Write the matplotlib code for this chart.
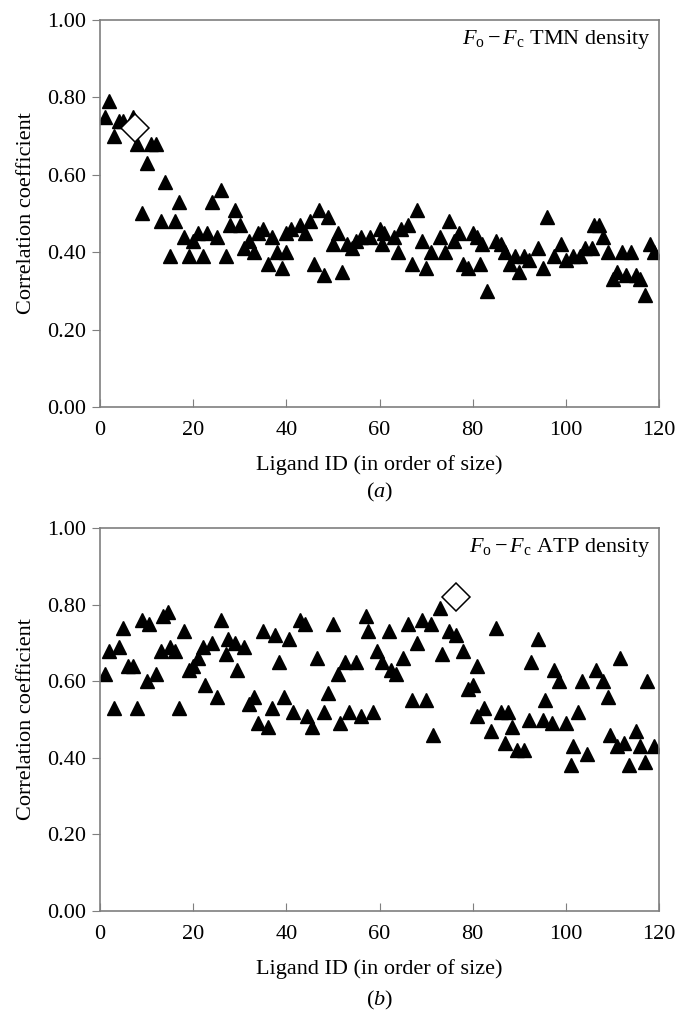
import matplotlib
matplotlib.use('Agg')
import matplotlib.pyplot as plt
from matplotlib.ticker import FormatStrFormatter

plt.rcParams['font.family'] = ['Liberation Serif', 'DejaVu Serif']
plt.rcParams['mathtext.fontset'] = 'custom'
plt.rcParams['mathtext.rm'] = 'Liberation Serif'
plt.rcParams['mathtext.it'] = 'Liberation Serif:italic'

# panel (a): Fo-Fc TMN density
ids_a = [1, 2, 3, 4, 5, 7, 8, 9, 10, 11, 12, 13, 14, 15, 16, 17, 18, 19, 20,
         21, 22, 23, 24, 25, 26, 27, 28, 29, 30, 31, 32, 33, 34, 35, 36, 37, 38,
         39, 40, 40, 41, 43, 44, 45, 46, 47, 48, 49, 50, 51, 52, 53, 54, 55, 56,
         58, 60, 60.5, 61, 63, 64, 64.5, 66, 67, 68, 69, 70, 71, 73, 74, 75, 76,
         77, 78, 79, 80, 81, 81.5, 82, 83, 85, 86, 87, 88, 89, 90, 91, 92, 94,
         95, 96, 97.5, 99, 100, 101.5, 103, 104, 105.5, 106, 107, 108, 109, 110,
         111, 112, 113, 114, 115, 116, 117, 118, 119]
cc_a = [0.75, 0.79, 0.70, 0.74, 0.74, 0.75, 0.68, 0.50, 0.63, 0.68, 0.68, 0.48,
        0.58, 0.39, 0.48, 0.53, 0.44, 0.39, 0.43, 0.45, 0.39, 0.45, 0.53, 0.44,
        0.56, 0.39, 0.47, 0.51, 0.47, 0.41, 0.43, 0.40, 0.45, 0.46, 0.37, 0.44,
        0.40, 0.36, 0.45, 0.40, 0.46, 0.47, 0.45, 0.48, 0.37, 0.51, 0.34, 0.49,
        0.42, 0.45, 0.35, 0.42, 0.41, 0.43, 0.44, 0.44, 0.46, 0.42, 0.45, 0.44,
        0.40, 0.46, 0.47, 0.37, 0.51, 0.43, 0.36, 0.40, 0.44, 0.40, 0.48, 0.43,
        0.45, 0.37, 0.36, 0.45, 0.44, 0.37, 0.42, 0.30, 0.43, 0.42, 0.40, 0.37,
        0.39, 0.35, 0.39, 0.38, 0.41, 0.36, 0.49, 0.39, 0.42, 0.38, 0.39, 0.39,
        0.41, 0.41, 0.47, 0.47, 0.44, 0.40, 0.33, 0.35, 0.40, 0.34, 0.40, 0.34,
        0.33, 0.29, 0.42, 0.40]
ref_a = (7.5, 0.72)

# panel (b): Fo-Fc ATP density
ids_b = [1, 2, 3, 4, 5, 6, 7, 8, 9, 10, 10.5, 12, 13, 13.5, 14.5, 15, 16, 17,
         18, 19, 20, 21, 22, 22.5, 24, 25, 26, 27, 27.5, 29, 29.5, 31, 32, 33,
         34, 35, 36, 37, 37.5, 38.5, 39.5, 40.5, 41.5, 43, 44, 44.5, 45.5, 46.5,
         48, 49, 50, 51, 51.5, 52.5, 53.5, 55, 56, 57, 57.5, 58.5, 59.5, 60.5,
         62, 62.5, 63.5, 65, 66, 67, 68, 69, 70, 71, 71.5, 73, 73.5, 75, 76.5,
         78, 79, 80, 81, 81, 82.5, 84, 85, 86, 87, 87.5, 88.5, 89.5, 91, 92,
         92.5, 94, 95, 95.5, 97, 97.5, 98.5, 100, 101, 101.5, 102.5, 103.5,
         104.5, 106.5, 108, 109, 109.5, 111, 111.5, 112.5, 113.5, 115, 116, 117,
         117.5, 119]
cc_b = [0.62, 0.68, 0.53, 0.69, 0.74, 0.64, 0.64, 0.53, 0.76, 0.60, 0.75, 0.62,
        0.68, 0.77, 0.78, 0.69, 0.68, 0.53, 0.73, 0.63, 0.64, 0.66, 0.69, 0.59,
        0.70, 0.56, 0.76, 0.67, 0.71, 0.70, 0.63, 0.69, 0.54, 0.56, 0.49, 0.73,
        0.48, 0.53, 0.72, 0.65, 0.56, 0.71, 0.52, 0.76, 0.75, 0.51, 0.48, 0.66,
        0.52, 0.57, 0.75, 0.62, 0.49, 0.65, 0.52, 0.65, 0.51, 0.77, 0.73, 0.52,
        0.68, 0.65, 0.73, 0.63, 0.62, 0.66, 0.75, 0.55, 0.70, 0.76, 0.55, 0.75,
        0.46, 0.79, 0.67, 0.73, 0.72, 0.68, 0.58, 0.59, 0.64, 0.51, 0.53, 0.47,
        0.74, 0.52, 0.44, 0.52, 0.48, 0.42, 0.42, 0.50, 0.65, 0.71, 0.50, 0.55,
        0.49, 0.63, 0.60, 0.49, 0.38, 0.43, 0.52, 0.60, 0.41, 0.63, 0.60, 0.56,
        0.46, 0.43, 0.66, 0.44, 0.38, 0.47, 0.43, 0.39, 0.60, 0.43]
ref_b = (76.5, 0.82)

grey = '#7f7f7f'
fs = 16
fig = plt.figure(figsize=(6.76, 10.16), dpi=100)
ax_a = fig.add_axes([0.148, 0.5994, 0.827, 0.381])
ax_b = fig.add_axes([0.148, 0.1033, 0.827, 0.377])

panels = [(ax_a, ids_a, cc_a, ref_a, 'TMN', 'a', 0.515),
          (ax_b, ids_b, cc_b, ref_b, 'ATP', 'b', 0.015)]

for ax, x, y, ref, lig, tag, tag_y in panels:
    ax.plot(x, y, linestyle='none', marker='^', color='black', markersize=10.5)
    ax.plot(ref[0], ref[1], linestyle='none', marker='D', markersize=14,
            markerfacecolor='white', markeredgecolor='black', markeredgewidth=1.1)
    ax.set_xlim(0, 120)
    ax.set_ylim(0, 1)
    ax.set_xticks(range(0, 121, 20))
    ax.set_yticks([0, 0.2, 0.4, 0.6, 0.8, 1.0])
    ax.yaxis.set_major_formatter(FormatStrFormatter('%.2f'))
    ax.tick_params(axis='x', direction='in', length=6, color=grey, labelsize=fs, pad=10)
    ax.tick_params(axis='y', direction='out', length=6, color=grey, labelsize=fs, pad=4)
    for sp in ax.spines.values():
        sp.set_color(grey)
        sp.set_linewidth(1.2)
    ax.set_xlabel('Ligand ID (in order of size)', fontsize=fs, labelpad=11)
    ax.set_ylabel('Correlation coefficient', fontsize=fs, labelpad=8)
    ax.text(0.985, 0.95, r'$F_{\rm o}-F_{\rm c}$ ' + lig + ' density',
            transform=ax.transAxes, ha='right', va='center', fontsize=fs)
    fig.text(0.5615, tag_y, r'($\it{' + tag + '}$)', ha='center', va='center',
             fontsize=fs)

fig.savefig('out.png', dpi=100)
